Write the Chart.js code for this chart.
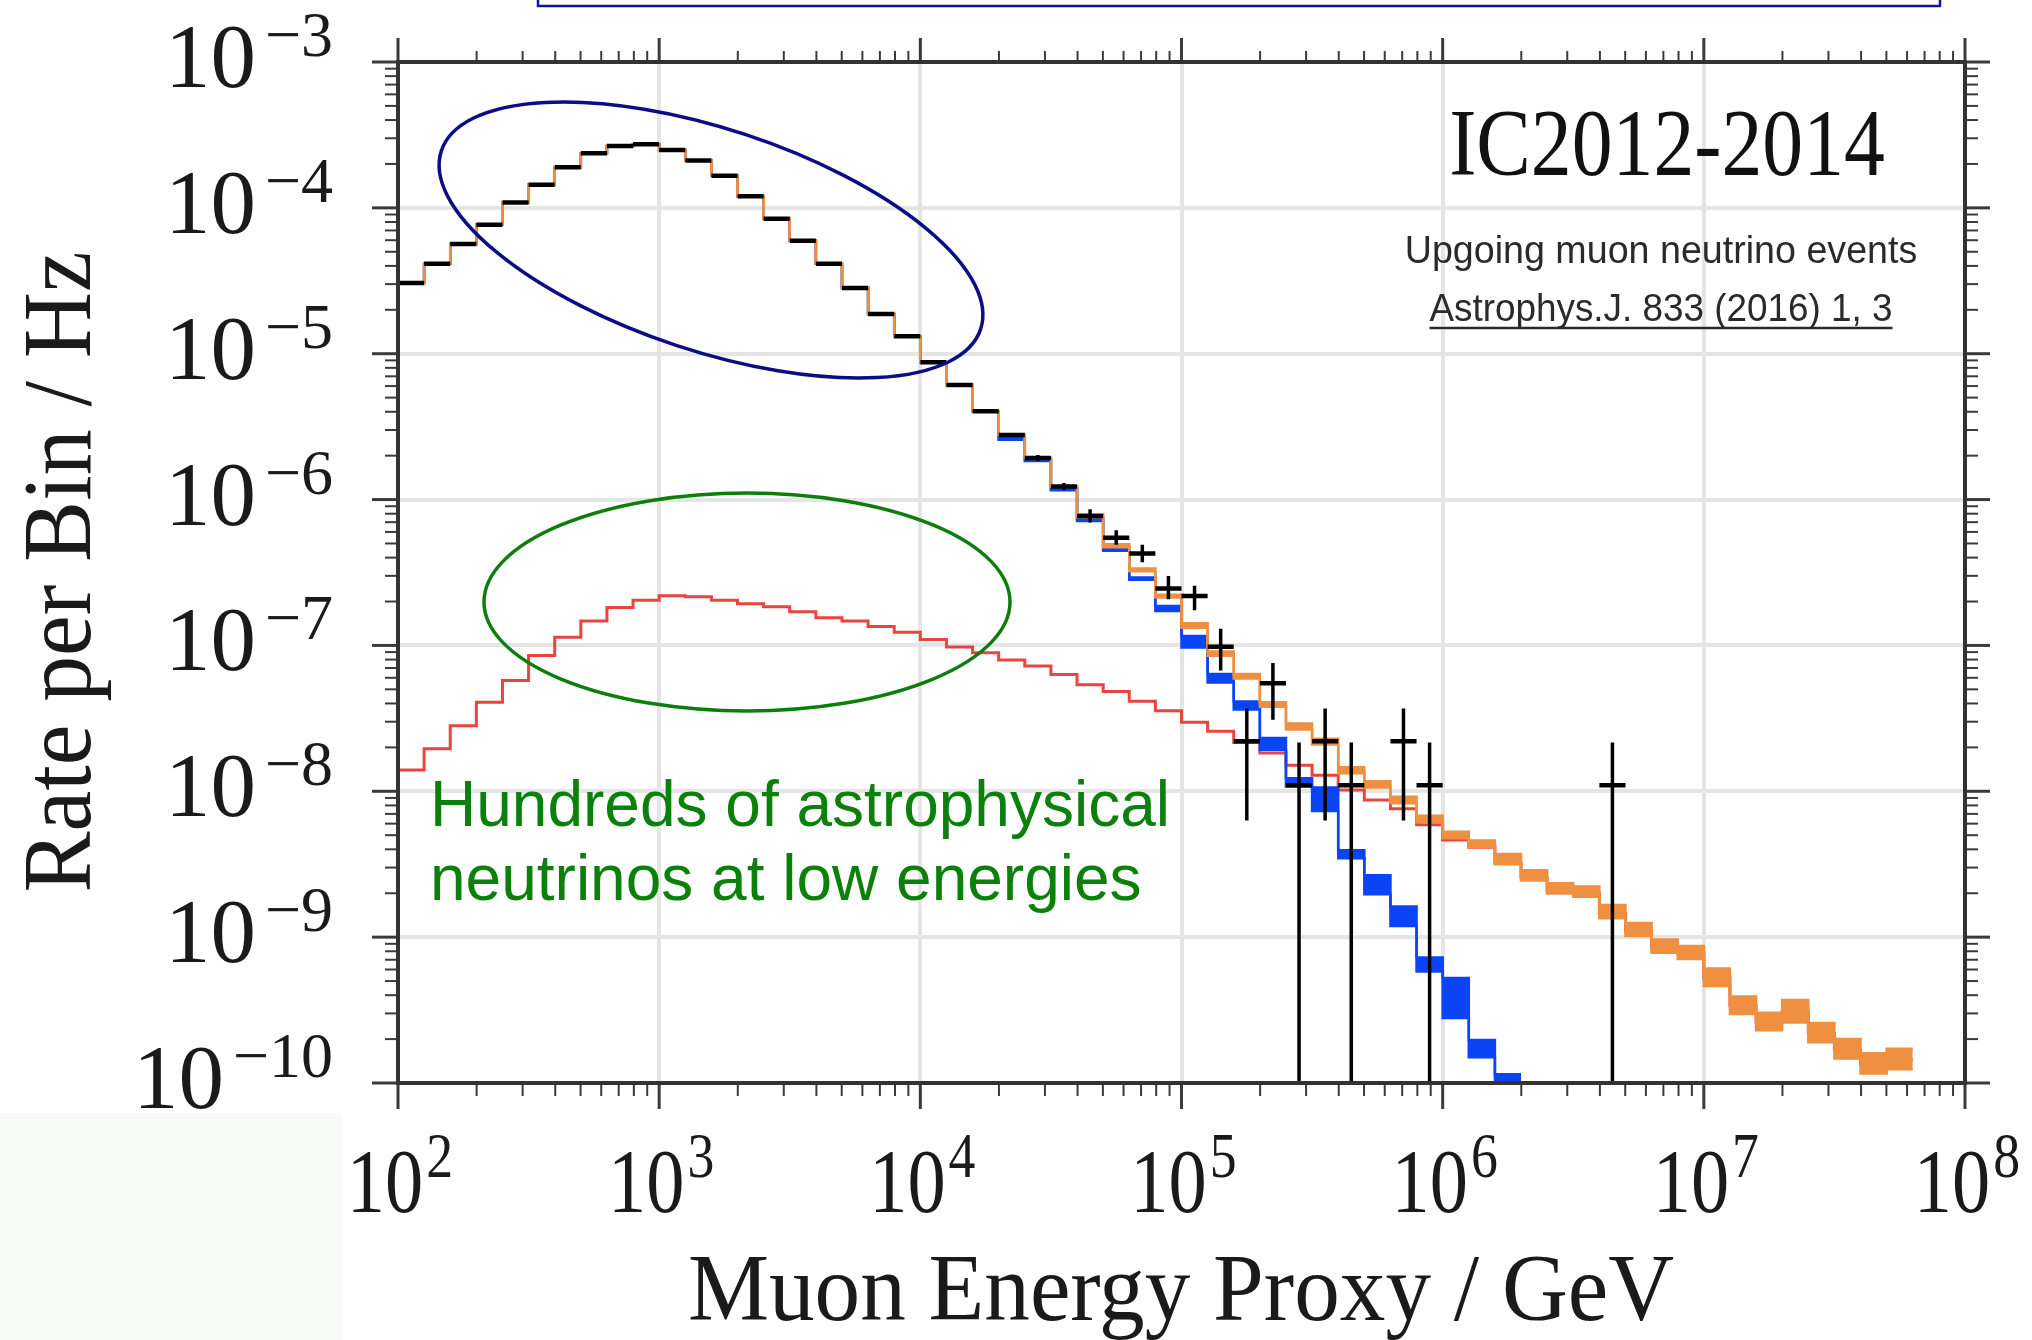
<!DOCTYPE html>
<html>
<head>
<meta charset="utf-8">
<title>IC2012-2014 upgoing muon neutrino rate</title>
<script src="https://cdn.jsdelivr.net/npm/chart.js@4.4.1/dist/chart.umd.min.js"></script>
<style>
  html, body { margin: 0; padding: 0; background: #fff; }
  #wrap { position: relative; width: 2032px; height: 1340px; }
</style>
</head>
<body>
<div id="wrap"><canvas id="rateChart"></canvas></div>
<script>
// bin edges, log10(E / GeV), 0.1 wide
const binLog10 = [
  2.0, 2.1, 2.2, 2.3, 2.4, 2.5, 2.6, 2.7, 2.8, 2.9,
  3.0, 3.1, 3.2, 3.3, 3.4, 3.5, 3.6, 3.7, 3.8, 3.9,
  4.0, 4.1, 4.2, 4.3, 4.4, 4.5, 4.6, 4.7, 4.8, 4.9,
  5.0, 5.1, 5.2, 5.3, 5.4, 5.5, 5.6, 5.7, 5.8, 5.9,
  6.0, 6.1, 6.2, 6.3, 6.4, 6.5, 6.6, 6.7, 6.8, 6.9,
  7.0, 7.1, 7.2, 7.3, 7.4, 7.5, 7.6, 7.7, 7.8
];

const xTickValues = [1e2, 1e3, 1e4, 1e5, 1e6, 1e7, 1e8];
const yTickValues = [1e-10, 1e-9, 1e-8, 1e-7, 1e-6, 1e-5, 1e-4, 1e-3];

// total prediction (orange band), upper / lower edge per bin
const totalHi = [
  3.05e-5, 4.13e-5, 5.66e-5, 7.66e-5, 1.09e-4, 1.44e-4, 1.90e-4, 2.37e-4, 2.66e-4, 2.73e-4,
  2.49e-4, 2.11e-4, 1.66e-4, 1.20e-4, 8.41e-5, 5.94e-5, 4.13e-5, 2.82e-5, 1.87e-5, 1.32e-5,
  8.75e-6, 6.10e-6, 4.03e-6, 2.77e-6, 1.93e-6, 1.23e-6, 7.91e-7, 4.93e-7, 3.37e-7, 2.23e-7,
  1.42e-7, 9.10e-8, 6.37e-8, 4.07e-8, 2.91e-8, 2.29e-8, 1.46e-8, 1.17e-8, 9.16e-9, 6.79e-9,
  5.27e-9, 4.59e-9, 3.71e-9, 2.88e-9, 2.34e-9, 2.22e-9, 1.66e-9, 1.25e-9, 9.62e-10, 8.71e-10,
  6.10e-10, 3.92e-10, 3.03e-10, 3.70e-10, 2.58e-10, 2.00e-10, 1.60e-10, 1.72e-10
];
const totalLo = [
  3.05e-5, 4.13e-5, 5.66e-5, 7.66e-5, 1.09e-4, 1.44e-4, 1.90e-4, 2.37e-4, 2.66e-4, 2.73e-4,
  2.49e-4, 2.11e-4, 1.66e-4, 1.20e-4, 8.41e-5, 5.94e-5, 4.13e-5, 2.82e-5, 1.87e-5, 1.32e-5,
  8.75e-6, 6.10e-6, 4.03e-6, 2.77e-6, 1.93e-6, 1.23e-6, 7.55e-7, 4.71e-7, 3.22e-7, 2.13e-7,
  1.32e-7, 8.49e-8, 5.94e-8, 3.80e-8, 2.65e-8, 2.09e-8, 1.33e-8, 1.06e-8, 8.28e-9, 6.14e-9,
  4.76e-9, 4.15e-9, 3.16e-9, 2.45e-9, 1.99e-9, 1.89e-9, 1.35e-9, 1.02e-9, 7.82e-10, 7.08e-10,
  4.62e-10, 2.97e-10, 2.30e-10, 2.60e-10, 1.90e-10, 1.47e-10, 1.16e-10, 1.24e-10
];

// conventional atmospheric (blue band)
const convHi = [
  3.05e-5, 4.13e-5, 5.66e-5, 7.66e-5, 1.09e-4, 1.44e-4, 1.90e-4, 2.37e-4, 2.66e-4, 2.73e-4,
  2.49e-4, 2.11e-4, 1.66e-4, 1.20e-4, 8.41e-5, 5.94e-5, 4.13e-5, 2.82e-5, 1.87e-5, 1.32e-5,
  8.75e-6, 6.10e-6, 4.03e-6, 2.64e-6, 1.89e-6, 1.19e-6, 7.38e-7, 4.59e-7, 2.92e-7, 1.86e-7,
  1.16e-7, 6.38e-8, 4.12e-8, 2.32e-8, 1.23e-8, 1.06e-8, 3.94e-9, 2.66e-9, 1.62e-9, 7.24e-10,
  5.25e-10, 1.97e-10, 1.15e-10
];
const convLo = [
  3.05e-5, 4.13e-5, 5.66e-5, 7.66e-5, 1.09e-4, 1.44e-4, 1.90e-4, 2.37e-4, 2.66e-4, 2.73e-4,
  2.49e-4, 2.11e-4, 1.66e-4, 1.20e-4, 8.41e-5, 5.94e-5, 4.13e-5, 2.82e-5, 1.87e-5, 1.32e-5,
  8.75e-6, 6.10e-6, 4.03e-6, 2.57e-6, 1.84e-6, 1.16e-6, 7.14e-7, 4.45e-7, 2.82e-7, 1.72e-7,
  9.66e-8, 5.56e-8, 3.63e-8, 1.93e-8, 1.08e-8, 7.33e-9, 3.47e-9, 1.97e-9, 1.19e-9, 5.82e-10,
  2.79e-10, 1.50e-10, 9.33e-11
];

// astrophysical (red line)
const astroRate = [
  1.40e-8, 1.96e-8, 2.81e-8, 4.07e-8, 5.74e-8, 8.53e-8, 1.14e-7, 1.47e-7, 1.82e-7, 2.04e-7,
  2.19e-7, 2.16e-7, 2.04e-7, 1.93e-7, 1.84e-7, 1.70e-7, 1.55e-7, 1.47e-7, 1.35e-7, 1.23e-7,
  1.10e-7, 9.77e-8, 8.91e-8, 7.94e-8, 7.24e-8, 6.31e-8, 5.37e-8, 4.84e-8, 4.14e-8, 3.57e-8,
  2.97e-8, 2.58e-8, 2.16e-8, 1.83e-8, 1.51e-8, 1.29e-8, 1.02e-8, 8.71e-9, 7.59e-9, 5.89e-9,
  4.63e-9, 4.13e-9, 3.24e-9, 2.57e-9, 2.09e-9, 2.00e-9, 1.45e-9, 1.10e-9, 8.51e-10, 7.76e-10,
  5.25e-10, 3.39e-10, 2.63e-10, 3.09e-10, 2.19e-10, 1.70e-10, 1.35e-10, 1.45e-10
];

// measured rate (black), with vertical error bounds (0 = down to zero)
const dataRate = [
  3.05e-5, 4.13e-5, 5.66e-5, 7.66e-5, 1.09e-4, 1.44e-4, 1.90e-4, 2.37e-4, 2.66e-4, 2.73e-4,
  2.49e-4, 2.11e-4, 1.66e-4, 1.20e-4, 8.41e-5, 5.94e-5, 4.13e-5, 2.82e-5, 1.87e-5, 1.32e-5,
  8.75e-6, 6.10e-6, 4.03e-6, 2.77e-6, 1.93e-6, 1.23e-6, 7.73e-7, 5.47e-7, 4.27e-7, 2.46e-7,
  2.18e-7, 9.8e-8, 2.2e-8, 5.5e-8, 1.1e-8, 2.2e-8, 1.1e-8, null, 2.2e-8, 1.1e-8,
  null, null, null, null, null, null, 1.1e-8, null, null, null,
  null, null, null, null, null, null, null, null
];
const dataErrLo = [
  null, null, null, null, null, null, null, null, null, null,
  null, null, null, null, null, null, null, null, null, null,
  null, null, null, null, 1.84e-6, 1.16e-6, 6.97e-7, 4.90e-7, 3.72e-7, 2.07e-7,
  1.74e-7, 6.73e-8, 6.3e-9, 3.09e-8, 0, 6.3e-9, 0, null, 6.3e-9, 0,
  null, null, null, null, null, null, 0, null, null, null,
  null, null, null, null, null, null, null, null
];
const dataErrHi = [
  null, null, null, null, null, null, null, null, null, null,
  null, null, null, null, null, null, null, null, null, null,
  null, null, null, null, 2.02e-6, 1.30e-6, 8.57e-7, 6.17e-7, 4.90e-7, 2.99e-7,
  2.57e-7, 1.30e-7, 3.7e-8, 7.59e-8, 2.16e-8, 3.7e-8, 2.16e-8, null, 3.7e-8, 2.16e-8,
  null, null, null, null, null, null, 2.16e-8, null, null, null,
  null, null, null, null, null, null, null, null
];

const yMin = 1e-10, yMax = 1e-3;
const edge = i => Math.pow(10, binLog10[i]);

// histogram outline: value i holds from edge i to edge i+1
function stepPoints(values) {
  const pts = values.map((v, i) => ({ x: edge(i), y: v }));
  pts.push({ x: edge(values.length), y: values[values.length - 1] });
  return pts;
}

// one horizontal segment per bin, broken by gaps
function binSegments(values) {
  const pts = [];
  values.forEach((v, i) => {
    if (v === null) return;
    pts.push({ x: edge(i), y: v }, { x: edge(i + 1), y: v }, { x: edge(i + 1), y: null });
  });
  return pts;
}

function errorBars(lo, hi) {
  const pts = [];
  lo.forEach((l, i) => {
    if (l === null) return;
    const xc = Math.pow(10, (binLog10[i] + binLog10[i + 1]) / 2);
    pts.push({ x: xc, y: Math.max(l, yMin) }, { x: xc, y: hi[i] }, { x: xc, y: null });
  });
  return pts;
}

const ORANGE = '#ee9040';
const BLUE = '#0a44f5';
const RED = '#e8453f';

function drawScaled(ctx, text, x, y, font, sx, align) {
  ctx.save();
  ctx.font = font;
  const w = ctx.measureText(text).width * sx;
  const left = align === 'center' ? x - w / 2 : (align === 'right' ? x - w : x);
  ctx.translate(left, y);
  ctx.scale(sx, 1);
  ctx.textAlign = 'left';
  ctx.fillText(text, 0, 0);
  ctx.restore();
  return w;
}

// "10" with a raised exponent
function drawPower(ctx, value, x, baseY, align, gap, rise, sx) {
  const exp = Math.round(Math.log10(value));
  const sup = exp < 0 ? '\u2212' + (-exp) : String(exp);
  const fBase = '91px "Liberation Serif"', fSup = '64px "Liberation Serif"';
  ctx.font = fBase;
  const wb = ctx.measureText('10').width * sx;
  ctx.font = fSup;
  const ws = ctx.measureText(sup).width * sx;
  const total = wb + gap + ws;
  const left = align === 'right' ? x - total : x - total / 2;
  drawScaled(ctx, '10', left, baseY, fBase, sx, 'left');
  drawScaled(ctx, sup, left + wb + gap, baseY - rise, fSup, sx, 'left');
}

const framePlugin = {
  id: 'frame',
  beforeDraw(chart) {
    const ctx = chart.ctx;
    ctx.save();
    ctx.fillStyle = '#f9fbf9';
    ctx.fillRect(0, 1113, 343, 227);
    ctx.restore();
  },
  afterDraw(chart) {
    const { ctx, chartArea: a, scales: { x, y } } = chart;
    ctx.save();

    // ticks on all four sides, pointing outwards
    ctx.strokeStyle = '#3a3a3a';
    const tick = (px, py, dx, dy, w) => {
      ctx.lineWidth = w;
      ctx.beginPath(); ctx.moveTo(px, py); ctx.lineTo(px + dx, py + dy); ctx.stroke();
    };
    xTickValues.forEach((d, i) => {
      const px = x.getPixelForValue(d);
      tick(px, a.bottom, 0, 26, 3); tick(px, a.top, 0, -24, 3);
      if (i === xTickValues.length - 1) return;
      for (let k = 2; k <= 9; k++) {
        const pm = x.getPixelForValue(k * d);
        tick(pm, a.bottom, 0, 13, 2); tick(pm, a.top, 0, -11, 2);
      }
    });
    yTickValues.forEach((d, i) => {
      const py = y.getPixelForValue(d);
      tick(a.left, py, -26, 0, 3); tick(a.right, py, 25, 0, 3);
      if (i === yTickValues.length - 1) return;
      for (let k = 2; k <= 9; k++) {
        const pm = y.getPixelForValue(k * d);
        tick(a.left, pm, -13, 0, 2); tick(a.right, pm, 13, 0, 2);
      }
    });

    // frame
    ctx.lineWidth = 4;
    ctx.strokeStyle = '#333';
    ctx.strokeRect(a.left, a.top, a.right - a.left, a.bottom - a.top);

    // tick labels
    ctx.fillStyle = '#1a1a1a';
    ctx.textBaseline = 'alphabetic';
    xTickValues.forEach(d => drawPower(ctx, d, x.getPixelForValue(d) + 2, 1212, 'center', 3, 35, 0.84));
    yTickValues.forEach(d => drawPower(ctx, d, 333, y.getPixelForValue(d) + 25, 'right', 9, 31, 1.0));

    // axis titles
    drawScaled(ctx, 'Muon Energy Proxy / GeV', 1181, 1320, '96px "Liberation Serif"', 0.95, 'center');
    ctx.save();
    ctx.translate(90, 572);
    ctx.rotate(-Math.PI / 2);
    drawScaled(ctx, 'Rate per Bin / Hz', 0, 0, '98px "Liberation Serif"', 0.935, 'center');
    ctx.restore();

    // labels in the upper right
    ctx.fillStyle = '#111';
    drawScaled(ctx, 'IC2012-2014', 1667, 175, '95px "Liberation Serif"', 0.86, 'center');
    ctx.fillStyle = '#2a2a2a';
    drawScaled(ctx, 'Upgoing muon neutrino events', 1661, 263, '39px "Liberation Sans"', 0.965, 'center');
    const wRef = drawScaled(ctx, 'Astrophys.J. 833 (2016) 1, 3', 1661, 321, '38px "Liberation Sans"', 0.97, 'center');
    ctx.lineWidth = 2.5;
    ctx.strokeStyle = '#2a2a2a';
    ctx.beginPath(); ctx.moveTo(1661 - wRef / 2, 328); ctx.lineTo(1661 + wRef / 2, 328); ctx.stroke();

    // highlight ellipses
    ctx.lineWidth = 3.5;
    ctx.strokeStyle = '#0c0c85';
    ctx.beginPath(); ctx.ellipse(711, 240, 284, 111, 18.3 * Math.PI / 180, 0, 2 * Math.PI); ctx.stroke();
    ctx.strokeStyle = '#0d7d0d';
    ctx.beginPath(); ctx.ellipse(747, 602, 263, 109, 0, 0, 2 * Math.PI); ctx.stroke();

    // note
    ctx.fillStyle = '#0b800b';
    ctx.font = '64px "Liberation Sans"';
    ctx.textAlign = 'left';
    ctx.fillText('Hundreds of astrophysical', 430, 826);
    ctx.fillText('neutrinos at low energies', 430, 900);

    // box cut off at the top
    ctx.lineWidth = 2.5;
    ctx.strokeStyle = '#14149a';
    ctx.strokeRect(538, -10, 1402, 16);

    ctx.restore();
  }
};

new Chart(document.getElementById('rateChart'), {
  type: 'line',
  data: {
    datasets: [
      { label: 'Data', data: binSegments(dataRate), borderColor: '#000', borderWidth: 4.5,
        spanGaps: false, fill: false, order: 0 },
      { label: 'Data error', data: errorBars(dataErrLo, dataErrHi), borderColor: '#000', borderWidth: 3.5,
        spanGaps: false, fill: false, order: 0 },
      { label: 'Total', data: stepPoints(totalHi), borderColor: ORANGE, backgroundColor: ORANGE,
        borderWidth: 2.5, stepped: true, fill: '+1', order: 1 },
      { label: 'Total low', data: stepPoints(totalLo), borderColor: ORANGE,
        borderWidth: 2.5, stepped: true, fill: false, order: 1 },
      { label: 'Conventional', data: stepPoints(convHi), borderColor: BLUE, backgroundColor: BLUE,
        borderWidth: 2.5, stepped: true, fill: '+1', order: 2 },
      { label: 'Conventional low', data: stepPoints(convLo), borderColor: BLUE,
        borderWidth: 2.5, stepped: true, fill: false, order: 2 },
      { label: 'Astrophysical', data: stepPoints(astroRate), borderColor: RED,
        borderWidth: 3, stepped: true, fill: false, order: 3 }
    ]
  },
  options: {
    responsive: true,
    maintainAspectRatio: false,
    animation: false,
    devicePixelRatio: 1,
    layout: { padding: { left: 398, right: 67, top: 62, bottom: 257 } },
    elements: { point: { radius: 0, hoverRadius: 0 }, line: { tension: 0 } },
    plugins: { legend: { display: false }, tooltip: { enabled: false } },
    scales: {
      x: {
        type: 'logarithmic', min: 1e2, max: 1e8,
        afterBuildTicks: axis => { axis.ticks = xTickValues.map(v => ({ value: v })); },
        ticks: { display: false },
        grid: { color: '#e5e5e5', lineWidth: 4, drawTicks: false },
        border: { display: false }
      },
      y: {
        type: 'logarithmic', min: yMin, max: yMax,
        afterBuildTicks: axis => { axis.ticks = yTickValues.map(v => ({ value: v })); },
        ticks: { display: false },
        grid: { color: '#e5e5e5', lineWidth: 4, drawTicks: false },
        border: { display: false }
      }
    }
  },
  plugins: [framePlugin]
});
</script>
</body>
</html>
